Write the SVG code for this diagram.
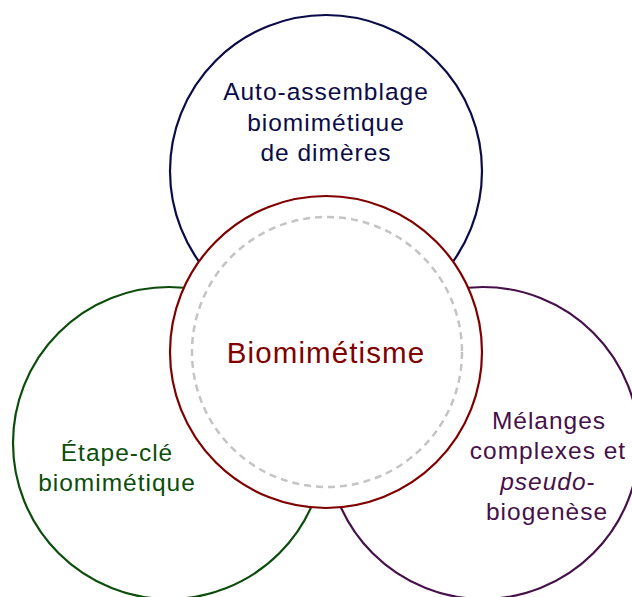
<svg xmlns="http://www.w3.org/2000/svg" width="632" height="597" viewBox="0 0 632 597">
<style>
.c{fill:#fff;stroke-width:2.2}
.t{font-family:"Liberation Sans",Arial,sans-serif;font-size:24.5px;letter-spacing:1px;text-anchor:middle}
</style>
<rect width="632" height="597" fill="#fff"/>
<g id="top">
<circle class="c" cx="326" cy="171" r="156" stroke="#0b0b48"/>
<text class="t" fill="#0b0b48"><tspan x="326" y="100">Auto-assemblage</tspan><tspan x="326" y="130.5">biomimétique</tspan><tspan x="326" y="161">de dimères</tspan></text>
</g>
<g id="left">
<circle class="c" cx="169" cy="443" r="156" stroke="#0b4d0b"/>
<text class="t" fill="#0b4d0b"><tspan x="117" y="461">Étape-clé</tspan><tspan x="117" y="491">biomimétique</tspan></text>
</g>
<g id="right">
<circle class="c" cx="483" cy="443" r="156" stroke="#46104a"/>
<text class="t" fill="#46104a"><tspan x="549" y="428.5">Mélanges</tspan><tspan x="548" y="459">complexes et</tspan><tspan x="548" y="489.5"><tspan font-style="italic">pseudo</tspan>-</tspan><tspan x="547" y="520">biogenèse</tspan></text>
</g>
<g id="center">
<circle class="c" cx="326" cy="352" r="156" stroke="#800000"/>
<circle cx="327" cy="352" r="135" fill="none" stroke="#c4c4c4" stroke-width="2.5" stroke-dasharray="7 5"/>
<text class="t" x="326" y="363" fill="#800000" style="font-size:29.5px;letter-spacing:1.1px">Biomimétisme</text>
</g>
<g id="connectors"></g>
</svg>
